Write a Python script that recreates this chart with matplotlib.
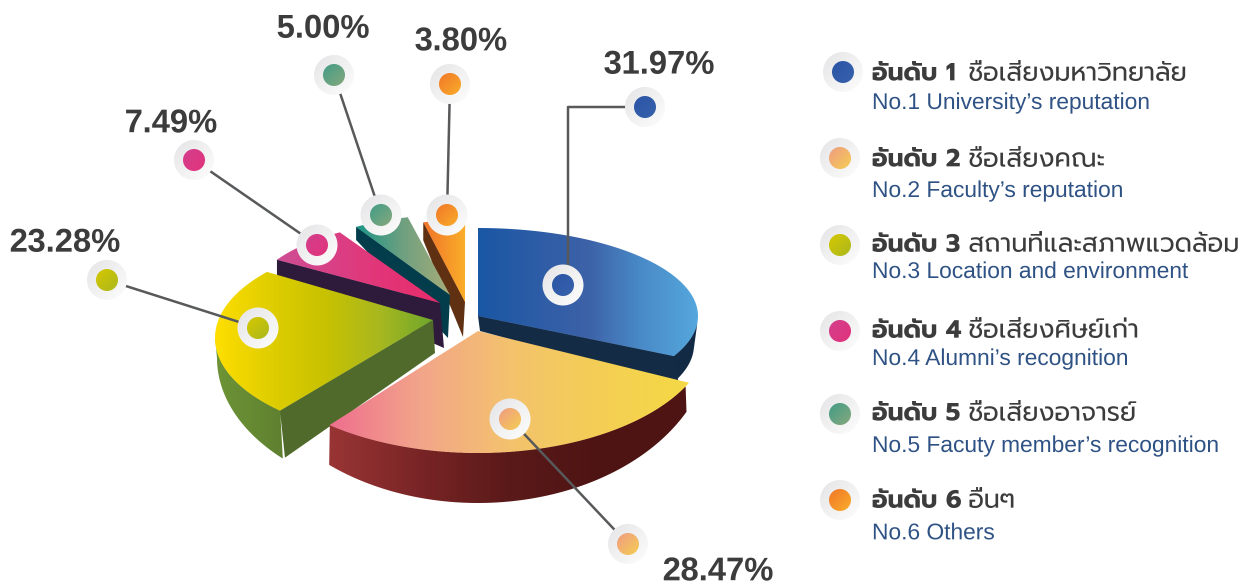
import matplotlib
matplotlib.use('Agg')
import matplotlib.pyplot as plt
import numpy as np
from matplotlib.colors import LinearSegmentedColormap
from matplotlib.patches import Polygon

# Chart values
shares = [31.97, 28.47, 23.28, 7.49, 5.00, 3.80]
share_labels = ['31.97%', '28.47%', '23.28%', '7.49%', '5.00%', '3.80%']
rank_labels = ['อันดับ 1', 'อันดับ 2', 'อันดับ 3', 'อันดับ 4', 'อันดับ 5', 'อันดับ 6']
thai_labels = ['ชื่อเสียงมหาวิทยาลัย', 'ชื่อเสียงคณะ', 'สถานที่และสภาพแวดล้อม',
               'ชื่อเสียงศิษย์เก่า', 'ชื่อเสียงอาจารย์', 'อื่นๆ']
english_labels = ['No.1 University’s reputation', 'No.2 Faculty’s reputation',
                  'No.3 Location and environment', 'No.4 Alumni’s recognition',
                  'No.5 Facuty member’s recognition', 'No.6 Others']

# Look of each slice, same order as shares. The picture is a faked 3D pie, each
# slice has its own apex and ellipse.
slice_styles = [
    dict(apex=(478, 316), center=(478, 316), rx=220, ry=88, nudge=(0, -2),
         top=['#1a57a4', '#2c5ca6', '#3d62a8', '#4a8cc9', '#55a7de'],
         wall='#132b45', wall_side=1, wall_drop=(15, (5, 28)),
         rim=dict(center=(478, 345), rx=216, ry=88, span=(-3, -27)), rim_colors=['#132b45', '#132b45']),
    dict(apex=(478, 331), center=(478, 331), rx=233, ry=122, nudge=(0, -2),
         top=['#ee6f8f', '#f2a58a', '#f4c26e', '#f5cf55', '#f6da45'],
         rim=dict(center=(478, 336), rx=234, ry=167, span=(-27, -129.5)),
         rim_colors=['#9a3535', '#7a2526', '#5b1a1a', '#4e1413', '#4e1413']),
    dict(apex=(433, 320), center=(433, 338), rx=218, ry=102, nudge=(-7, -9),
         top=['#ffdf00', '#e0cf00', '#c9c200', '#a9b81f', '#6fa72d'],
         wall='#4f6b2b', wall_side=0, wall_drop=(33, (5, 47)),
         rim=dict(center=(437, 358), rx=220, ry=141, span=(-134.5, -180)),
         rim_colors=['#6f9537', '#668b34', '#5f8030']),
    dict(apex=(440, 303), center=(440, 303), rx=191, ry=83, nudge=(0, 0),
         top=['#cf4f96', '#df3a7e', '#e92c6a'],
         wall='#2e1b3a', wall_side=0, wall_drop=(45, (0, 15)), wall_dx=4),
    dict(apex=(450, 295), center=(450, 295), rx=179, ry=80, nudge=(0, 0),
         top=['#1a9688', '#6fa080', '#a9ad7a'],
         wall='#033d4a', wall_side=0, wall_drop=(43, (0, 13)), wall_dx=-2),
    dict(apex=(465, 302), center=(465, 302), rx=177, ry=82, nudge=(0, 0),
         top=['#f2732a', '#fbb02a'],
         wall='#5f3011', wall_side=0, wall_drop=(35, (0, 18)), wall_dx=-2),
]
draw_order = [5, 4, 3, 2, 0, 1]

dot_colors = [('#2a55a5', '#3a62ad'), ('#ef9a86', '#f6d050'), ('#d8c800', '#a9b81f'),
              ('#d43f8f', '#e2337a'), ('#3f9c88', '#8aa97c'), ('#f1752a', '#fbb02a')]
ring_pos = [(563, 285), (510, 419), (258, 328), (317, 245), (381, 215), (447, 215)]
dot_pos = [(645, 107), (628, 544), (107, 280), (194, 160), (334, 75), (450, 84)]
text_pos = [(659, 65), (718, 572), (65, 243), (171, 124), (323, 29), (461, 42)]
legend_dot_pos = [(843, 72), (840, 158), (840, 245), (840, 331), (840, 414), (840, 500)]
legend_thai_y = [74, 160, 245, 331, 414, 501]
legend_eng_y = [103, 191, 272, 359, 446, 533]

LINE_COLOR = '#58595b'
THAI_FONT = ['Prompt', 'Noto Sans Thai', 'DejaVu Sans']
LATIN_FONT = ['Liberation Sans', 'DejaVu Sans']
SCALE = 3  # drawn large and averaged down, clip paths are not antialiased

fig = plt.figure(figsize=(12.52, 5.83), dpi=100 * SCALE)
ax = fig.add_axes([0, 0, 1, 1])
ax.set_axis_off()


def arc(center, rx, ry, a0, a1, n=80):
    t = np.radians(np.linspace(a0, a1, n))
    return np.column_stack([center[0] + rx * np.cos(t), center[1] - ry * np.sin(t)])


def gradient_fill(verts, colors, zorder, angle=0):
    # gradient image clipped to a polygon
    verts = np.asarray(verts)
    x0, y0 = verts.min(axis=0) - 1
    x1, y1 = verts.max(axis=0) + 1
    u, v = np.meshgrid(np.linspace(0, 1, 200), np.linspace(0, 1, 100))
    rad = np.radians(angle)
    g = u * np.cos(rad) + v * np.sin(rad)
    g = (g - g.min()) / (g.max() - g.min())
    cmap = LinearSegmentedColormap.from_list('g', colors)
    im = ax.imshow(g, cmap=cmap, extent=(x0, x1, y1, y0), aspect='auto',
                   interpolation='bilinear', zorder=zorder)
    im.set_clip_path(Polygon(verts, closed=True, transform=ax.transData))


def disc(pos, radius, colors, zorder, angle=45):
    gradient_fill(arc(pos, radius, radius, 0, 360), colors, zorder, angle)


def draw_slice(a0, a1, style, zorder):
    a0 += style['nudge'][0]
    a1 += style['nudge'][1]
    apex = np.array(style['apex'], dtype=float)
    edge = arc(style['center'], style['rx'], style['ry'], a0, a1)

    if 'rim' in style:
        rim = style['rim']
        s0, s1 = rim['span']
        upper = arc(style['center'], style['rx'], style['ry'], s0, s1)
        lower = arc(rim['center'], rim['rx'], rim['ry'], s0, s1)
        gradient_fill(np.vstack([upper, lower[::-1]]), style['rim_colors'], zorder)

    if 'wall' in style:
        corner = edge[-1] if style['wall_side'] == 1 else edge[0]
        drop_apex, (dx, dy) = style['wall_drop']
        wall = [apex, corner, corner + (dx, dy), apex + (style.get('wall_dx', 2), drop_apex)]
        ax.add_patch(Polygon(wall, closed=True, fc=style['wall'], ec='none', zorder=zorder + 0.1))

    gradient_fill(np.vstack([apex, edge]), style['top'], zorder + 0.2)


for i in draw_order:
    a0 = 90.0 - sum(shares[:i]) * 3.6
    a1 = a0 - shares[i] * 3.6
    draw_slice(a0, a1, slice_styles[i], 2 + draw_order.index(i))

# leader lines, the first one has an elbow
ax.plot([ring_pos[0][0] + 5, ring_pos[0][0] + 5, dot_pos[0][0]],
        [ring_pos[0][1], dot_pos[0][1], dot_pos[0][1]], color=LINE_COLOR, lw=1.8, zorder=10)
for i in range(1, 6):
    ax.plot([ring_pos[i][0], dot_pos[i][0]], [ring_pos[i][1], dot_pos[i][1]],
            color=LINE_COLOR, lw=1.8, zorder=10)

for i in range(6):
    disc(ring_pos[i], 20.5, ['#e4e4e6', '#ffffff'], 11)
    disc(ring_pos[i], 11, dot_colors[i], 12)
    disc(dot_pos[i], 20, ['#e4e4e6', '#ffffff'], 11)
    disc(dot_pos[i], 11, dot_colors[i], 12)
    ax.text(text_pos[i][0], text_pos[i][1], share_labels[i], ha='center', va='center',
            family=LATIN_FONT, fontsize=23.6, fontweight='bold', color='#3c3c3e')

    # legend
    disc(legend_dot_pos[i], 20, ['#e4e4e6', '#ffffff'], 11)
    disc(legend_dot_pos[i], 11, dot_colors[i], 12)
    ax.text(872, legend_thai_y[i], rank_labels[i], ha='left', va='center',
            family=THAI_FONT, fontsize=18, fontweight='bold', color='#3c3c3e')
    ax.text(968, legend_thai_y[i], thai_labels[i], ha='left', va='center',
            family=THAI_FONT, fontsize=18.5, fontweight='normal', color='#3c3c3e')
    ax.text(872, legend_eng_y[i], english_labels[i], ha='left', va='center',
            family=LATIN_FONT, fontsize=16.4, color='#2f5285')

ax.set_xlim(0, 1252)
ax.set_ylim(583, 0)

fig.canvas.draw()
big = np.asarray(fig.canvas.buffer_rgba())[:, :, :3] / 255.0
h = big.shape[0] // SCALE
w = big.shape[1] // SCALE
small = big[:h * SCALE, :w * SCALE].reshape(h, SCALE, w, SCALE, 3).mean(axis=(1, 3))
plt.imsave('out.png', small)
